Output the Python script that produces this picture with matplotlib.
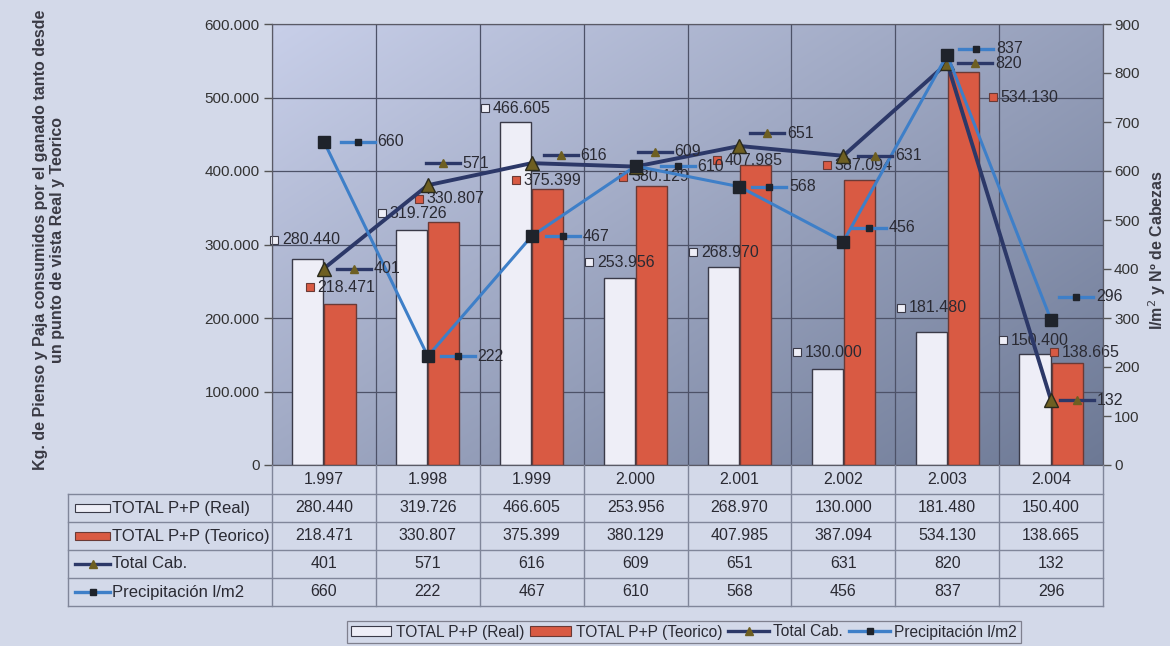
import matplotlib
matplotlib.use('Agg')
import numpy as np
import matplotlib.pyplot as plt
from matplotlib.colors import to_rgb
from matplotlib.patches import Rectangle, Patch
from matplotlib.lines import Line2D
from matplotlib.offsetbox import DrawingArea, TextArea, HPacker, AnnotationBbox
from matplotlib.ticker import FuncFormatter

plt.rcParams['font.family'] = ['Liberation Sans', 'DejaVu Sans']

# data
years = [1997, 1998, 1999, 2000, 2001, 2002, 2003, 2004]
real = [280440, 319726, 466605, 253956, 268970, 130000, 181480, 150400]
teorico = [218471, 330807, 375399, 380129, 407985, 387094, 534130, 138665]
cabezas = [401, 571, 616, 609, 651, 631, 820, 132]
precip = [660, 222, 467, 610, 568, 456, 837, 296]

name_real = 'TOTAL P+P (Real)'
name_teo = 'TOTAL P+P (Teorico)'
name_cab = 'Total Cab.'
name_pre = 'Precipitación l/m2'

# label nudges in pixels (dx, dy up), copied by eye from the original
off_real = [(-3, 19), (0, 17), (0, 14), (0, 16), (0, 15), (0, 17), (0, 24), (-2, 14)]
off_teo = [(0, 17), (5, 23), (-2, 9), (2, 9), (-8, 5), (-2, 15), (60, -25), (17, 11)]
off_cab = [(13, 0), (-2, 22), (12, 8), (2, 15), (11, 13), (15, 0), (11, 0), (9, 0)]
off_pre = [(17, 0), (13, 0), (14, 0), (25, 0), (13, 0), (9, 14), (12, 6), (8, 23)]

BG = '#d3d9e9'
INK = '#2a2a33'
C_WHITE, C_WHITE_E = '#eeeef7', '#3a3a48'
C_RED, C_RED_E = '#d95a43', '#6a3a36'
C_CAB, C_CAB_M = '#2c3868', '#6e5f22'
C_PRE, C_PRE_M = '#3e7fc8', '#1f232b'

W, H, DPI = 1170, 646, 100
PX = 72 / DPI          # points per pixel
PL, PR, PT, PB = 272, 1103, 24, 465


def es(v):
    return f'{v:,.0f}'.replace(',', '.')


fig = plt.figure(figsize=(W / DPI, H / DPI), dpi=DPI, facecolor=BG)
ax = fig.add_axes([PL / W, 1 - PB / H, (PR - PL) / W, (PB - PT) / H])

# gradient plot area, light top-left to dark bottom-right
gx, gy = np.meshgrid(np.linspace(0, 1, 200), np.linspace(0, 1, 200))
t = 0.55 * gx + 0.45 * gy
c0, c1 = np.array(to_rgb('#c8cfe9')), np.array(to_rgb('#6d7995'))
ax.imshow(c0 + (c1 - c0) * t[..., None], extent=(0, 1, 0, 1),
          transform=ax.transAxes, aspect='auto', zorder=0,
          interpolation='bilinear')

n = len(years)
x = np.arange(n)
ax.bar(x - 0.155, real, 0.30, color=C_WHITE, edgecolor=C_WHITE_E, lw=1, zorder=2)
ax.bar(x + 0.155, teorico, 0.30, color=C_RED, edgecolor=C_RED_E, lw=1, zorder=2)

ax.set_xlim(-0.5, n - 0.5)
ax.set_ylim(0, 600000)
ax.set_yticks(range(0, 600001, 100000))
ax.yaxis.set_major_formatter(FuncFormatter(lambda v, p: es(v)))
ax.set_xticks([])
ax.set_xticks(np.arange(-0.5, n, 1), minor=True)
ax.set_axisbelow(True)
ax.yaxis.grid(True, color='#4d5268', lw=0.9)
ax.xaxis.grid(True, which='minor', color='#4d5268', lw=0.9)
ax.tick_params(axis='x', which='both', length=0, labelbottom=False)
ax.tick_params(axis='y', labelsize=11, labelcolor='#333', color='#555',
               length=6, width=1, pad=3)

ax2 = ax.twinx()
ax2.plot(x, cabezas, color=C_CAB, lw=2.8, marker='^', ms=10,
         mfc=C_CAB_M, mec='#2a2a1c', zorder=3)
ax2.plot(x, precip, color=C_PRE, lw=2.2, marker='s', ms=9,
         mfc=C_PRE_M, mec=C_PRE_M, zorder=4)
ax2.set_ylim(0, 900)
ax2.set_yticks(range(0, 901, 100))
ax2.tick_params(axis='y', labelsize=11, labelcolor='#333', color='#555',
                length=6, width=1, pad=2)
for a in (ax, ax2):
    for s in a.spines.values():
        s.set_color('#5a5a66')


# data labels with legend keys
def bar_key(fc, ec):
    da = DrawingArea(10 * PX, 10 * PX, 0, 0)
    da.add_artist(Rectangle((1 * PX, 1 * PX), 8 * PX, 8 * PX,
                            fc=fc, ec=ec, lw=0.8))
    return da


def line_key(color, marker, ms, mfc):
    da = DrawingArea(34 * PX, 10 * PX, 0, 0)
    da.add_artist(Line2D([0, 34 * PX], [5 * PX, 5 * PX], color=color, lw=2.4))
    da.add_artist(Line2D([17 * PX], [5 * PX], marker=marker, ms=ms,
                         mfc=mfc, mec=mfc, ls='none'))
    return da


def add_label(axis, xv, yv, key, text, dx, dy, align):
    ta = TextArea(text, textprops=dict(fontsize=11.5, color=INK))
    box = HPacker(children=[key, ta], align='center', pad=0, sep=2)
    ab = AnnotationBbox(box, (xv, yv), xybox=(dx * PX, dy * PX),
                        xycoords='data', boxcoords='offset points',
                        box_alignment=align, frameon=False, pad=0, zorder=6)
    axis.add_artist(ab)


for i in range(n):
    add_label(ax, x[i] - 0.155, real[i], bar_key(C_WHITE, C_WHITE_E),
              es(real[i]), *off_real[i], (0.5, 0.5))
    add_label(ax, x[i] + 0.155, teorico[i], bar_key(C_RED, C_RED_E),
              es(teorico[i]), *off_teo[i], (0.5, 0.5))
    add_label(ax2, x[i], cabezas[i], line_key(C_CAB, '^', 6, C_CAB_M),
              str(cabezas[i]), *off_cab[i], (0, 0.5))
    add_label(ax2, x[i], precip[i], line_key(C_PRE, 's', 5, C_PRE_M),
              str(precip[i]), *off_pre[i], (0, 0.5))

# axis titles
fig.text(49 / W, 1 - 240 / H,
         'Kg. de Pienso y Paja consumidos por el ganado tanto desde\n'
         'un punto de vista Real y Teorico',
         rotation=90, ha='center', va='center', multialignment='center',
         fontsize=11.5, fontweight='bold', color='#3a3a44')
fig.text(1157 / W, 1 - 250 / H, 'l/m$^2$ y Nº de Cabezas',
         rotation=90, ha='center', va='center',
         fontsize=11.5, fontweight='bold', color='#3a3a44')

# data table under the plot
tax = fig.add_axes([0, 0, 1, 1])
tax.set_xlim(0, W)
tax.set_ylim(H, 0)
tax.axis('off')

TL = 68
row_edges = [465, 494, 522, 550, 578, 606]
colw = (PR - PL) / n
GRID = '#80869a'

for i in range(n + 1):
    tax.plot([PL + i * colw] * 2, [row_edges[0], row_edges[-1]], color=GRID, lw=1)
tax.plot([TL, TL], [row_edges[1], row_edges[-1]], color=GRID, lw=1)
for yy in row_edges[1:]:
    tax.plot([TL, PR], [yy, yy], color=GRID, lw=1)

ymid = [(row_edges[k] + row_edges[k + 1]) / 2 for k in range(5)]
for i in range(n):
    cx = PL + (i + 0.5) * colw
    tax.text(cx, ymid[0], es(years[i]), ha='center', va='center', fontsize=11.5, color=INK)
    tax.text(cx, ymid[1], es(real[i]), ha='center', va='center', fontsize=11.5, color=INK)
    tax.text(cx, ymid[2], es(teorico[i]), ha='center', va='center', fontsize=11.5, color=INK)
    tax.text(cx, ymid[3], str(cabezas[i]), ha='center', va='center', fontsize=11.5, color=INK)
    tax.text(cx, ymid[4], str(precip[i]), ha='center', va='center', fontsize=11.5, color=INK)

kx0, kx1 = 75, 110
tax.add_patch(Rectangle((kx0, ymid[1] - 4), kx1 - kx0, 8, fc=C_WHITE, ec=C_WHITE_E, lw=0.8))
tax.add_patch(Rectangle((kx0, ymid[2] - 4), kx1 - kx0, 8, fc=C_RED, ec=C_RED_E, lw=0.8))
tax.plot([kx0, kx1], [ymid[3]] * 2, color=C_CAB, lw=2.4)
tax.plot([(kx0 + kx1) / 2], [ymid[3]], marker='^', ms=6, color=C_CAB_M)
tax.plot([kx0, kx1], [ymid[4]] * 2, color=C_PRE, lw=2.4)
tax.plot([(kx0 + kx1) / 2], [ymid[4]], marker='s', ms=5, color=C_PRE_M)
for k, name in enumerate([name_real, name_teo, name_cab, name_pre]):
    tax.text(kx1 + 2, ymid[k + 1], name, ha='left', va='center', fontsize=12, color=INK)

# legend at the bottom
handles = [Patch(fc=C_WHITE, ec=C_WHITE_E, lw=0.8),
           Patch(fc=C_RED, ec=C_RED_E, lw=0.8),
           Line2D([], [], color=C_CAB, lw=2.4, marker='^', ms=6, mfc=C_CAB_M, mec=C_CAB_M),
           Line2D([], [], color=C_PRE, lw=2.4, marker='s', ms=5, mfc=C_PRE_M, mec=C_PRE_M)]
leg = fig.legend(handles, [name_real, name_teo, name_cab, name_pre],
                 loc='center', bbox_to_anchor=(684 / W, 1 - 632 / H), ncol=4,
                 frameon=True, fancybox=False, edgecolor='#6a6a78', facecolor='none',
                 fontsize=11.2, handlelength=2.6, handleheight=0.55, handletextpad=0.3,
                 columnspacing=0.4, borderpad=0.25, borderaxespad=0)
leg.get_frame().set_linewidth(0.9)
for t_ in leg.get_texts():
    t_.set_color(INK)

fig.savefig('out.png', dpi=DPI, facecolor=BG)
